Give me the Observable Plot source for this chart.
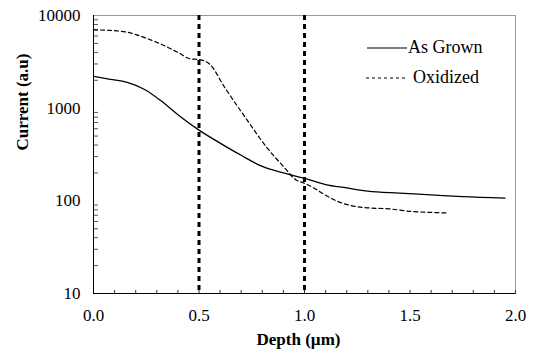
<!DOCTYPE html>
<html>
<head>
<meta charset="utf-8">
<script src="https://cdn.jsdelivr.net/npm/d3@7"></script>
<script src="https://cdn.jsdelivr.net/npm/@observablehq/plot@0.6"></script>
<style>
  html, body { margin: 0; padding: 0; background: #fff; }
  #chart { position: relative; width: 533px; height: 356px; }
  #chart svg text { font-family: "Liberation Serif", "Times New Roman", serif; }
</style>
</head>
<body>
<div id="chart"></div>
<script>
// Data
const grownDepth   = [0.00, 0.08, 0.16, 0.24, 0.32, 0.40, 0.50, 0.60, 0.70, 0.80, 0.90, 1.00, 1.10, 1.20, 1.30, 1.45, 1.60, 1.75, 1.95];
const grownCurrent = [2200, 2050, 1900, 1600, 1200, 850,  580,  420,  310,  235,  200,  175,  150,  138,  127,  121,  116,  111,  107];

const oxDepth   = [0.00, 0.08, 0.16, 0.24, 0.32, 0.40, 0.46, 0.50, 0.55, 0.62, 0.72, 0.82, 0.90, 0.96, 1.00, 1.05, 1.10, 1.16, 1.22, 1.30, 1.40, 1.50, 1.60, 1.67];
const oxCurrent = [7000, 6900, 6600, 5800, 4900, 4000, 3400, 3350, 3000, 1700, 790,  380,  235,  168,  155,  135,  115,  98,   89,   84,   82,   77,   75,   74];

const markerDepths = [0.5, 1.0];

const xTicksMajor = [0, 0.5, 1.0, 1.5, 2.0];
const xTicksMinor = d3.range(0, 21).map(i => i / 10);
const yTicksMajor = [10, 100, 1000, 10000];
const yTicksMinor = [10, 100, 1000].flatMap(d => [2,3,4,5,6,7,8,9].map(k => k * d));

const seriesNames = ["As Grown", "Oxidized"];

const grown = grownDepth.map((x, i) => ({x, y: grownCurrent[i]}));
const ox = oxDepth.map((x, i) => ({x, y: oxCurrent[i]}));

const font = "Liberation Serif, Times New Roman, serif";
const blank = () => "";

const plot = Plot.plot({
  width: 533,
  height: 356,
  marginLeft: 93,
  marginRight: 18,
  marginTop: 15,
  marginBottom: 63,
  style: { fontFamily: font, fontSize: "17px", color: "#000", background: "#fff" },
  x: { domain: [0, 2], label: null },
  y: { type: "log", domain: [10, 10000], label: null },
  marks: [
    Plot.frame({ stroke: "#999", strokeWidth: 1 }),
    // minor ticks pointing into the plot
    Plot.axisY({ ticks: yTicksMinor, anchor: "right", frameAnchor: "left", tickSize: 4, tickFormat: blank, label: null, stroke: "#555" }),
    Plot.axisX({ ticks: xTicksMinor, anchor: "top", frameAnchor: "bottom", tickSize: 4, tickFormat: blank, label: null, stroke: "#333" }),
    // major labels
    Plot.axisY({ ticks: yTicksMajor, tickSize: 0, tickPadding: 13, tickFormat: d => String(d), label: null, fontFamily: font }),
    Plot.axisX({ ticks: xTicksMajor, tickSize: 0, tickPadding: 15, tickFormat: d => d.toFixed(1), label: null, fontFamily: font }),
    Plot.ruleX([0], { stroke: "#000", strokeWidth: 1 }),
    Plot.ruleY([10], { stroke: "#000", strokeWidth: 1 }),
    Plot.ruleX(markerDepths, { stroke: "#000", strokeWidth: 3, strokeDasharray: "5,4" }),
    Plot.line(grown, { x: "x", y: "y", stroke: "#000", strokeWidth: 1.3, curve: "monotone-x" }),
    Plot.line(ox, { x: "x", y: "y", stroke: "#000", strokeWidth: 1.2, strokeDasharray: "4,3", curve: "monotone-x" }),
    Plot.text(["Current (a.u)"], { frameAnchor: "left", rotate: -90, dx: -71, dy: -4, fontWeight: "bold", fontSize: 17, fontFamily: font }),
    Plot.text(["Depth (µm)"], { frameAnchor: "bottom", dx: -6, dy: 51, fontWeight: "bold", fontSize: 17, fontFamily: font })
  ]
});

document.getElementById("chart").appendChild(plot);

// Legend inside the plot area
const svg = d3.select(plot);
const lg = svg.append("g").attr("font-family", font).attr("font-size", 18).attr("text-anchor", "start");
const legendRows = [
  { name: seriesNames[0], dash: null, y: 48, x1: 367, x2: 407, tx: 408 },
  { name: seriesNames[1], dash: "3,3", y: 78, x1: 366, x2: 407, tx: 413 }
];
legendRows.forEach(r => {
  lg.append("line").attr("x1", r.x1).attr("x2", r.x2).attr("y1", r.y).attr("y2", r.y)
    .attr("stroke", "#000").attr("stroke-width", 1.2).attr("stroke-dasharray", r.dash);
  lg.append("text").attr("x", r.tx).attr("y", r.y).attr("dy", "0.3em").attr("text-anchor", "start").text(r.name);
});
</script>
</body>
</html>
